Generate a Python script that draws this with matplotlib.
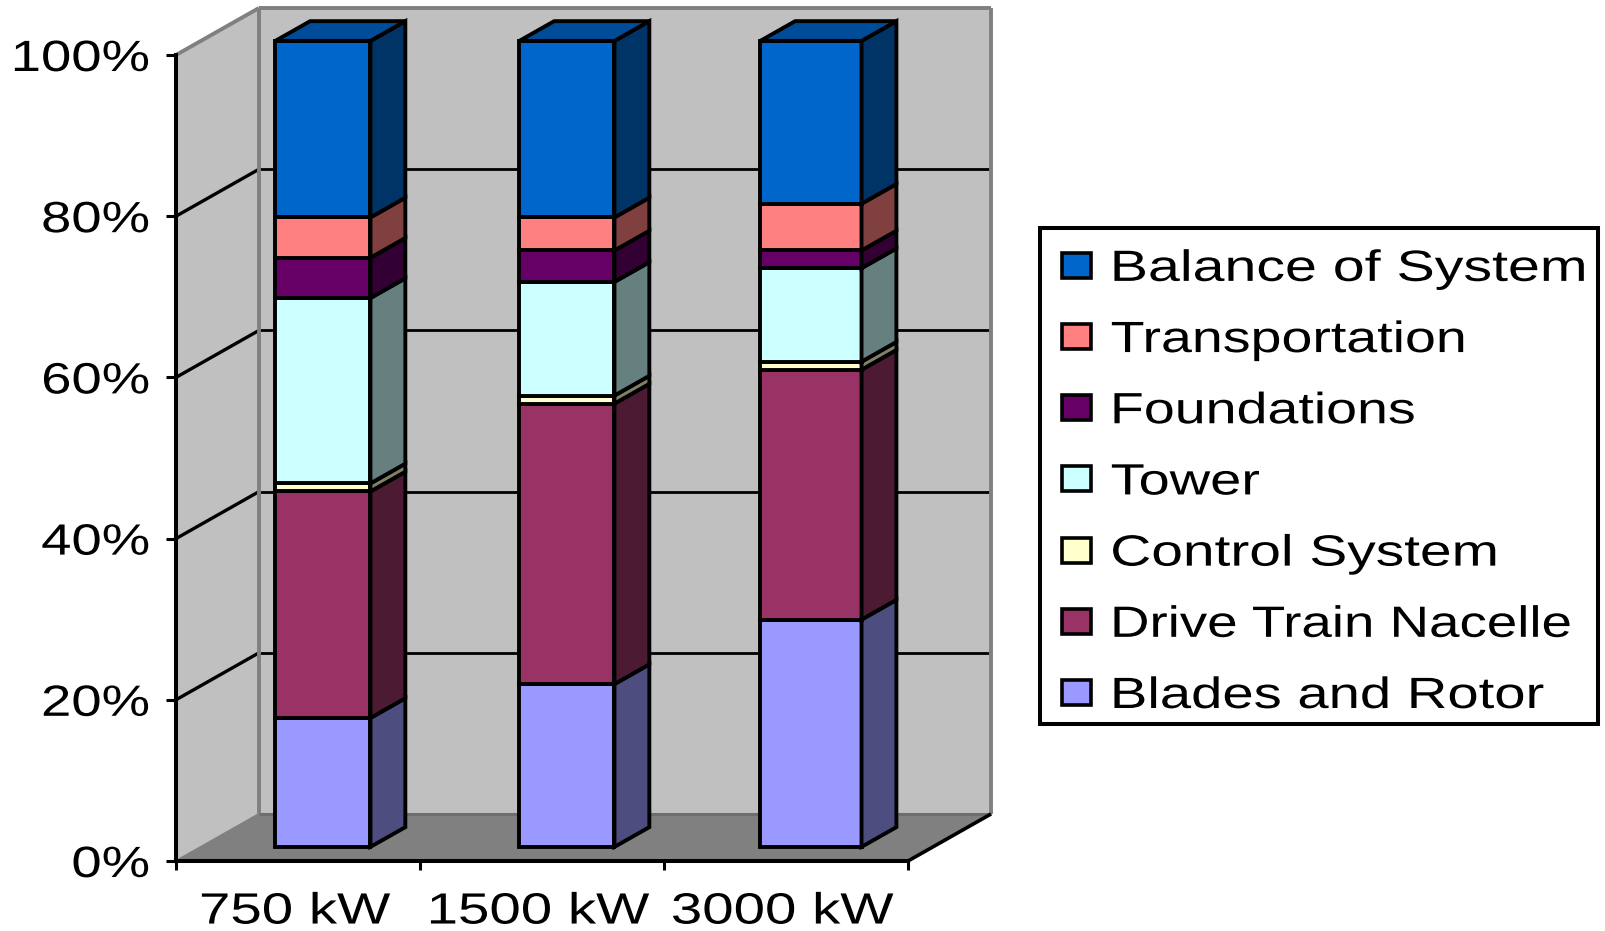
#!/usr/bin/python3 -B
"""Stacked cost shares per turbine size, drawn as an Excel style 3D column chart.
"""

import matplotlib

matplotlib.use("Agg")

import matplotlib.patheffects as pe
import matplotlib.pyplot as plt
from matplotlib.patches import Patch, Rectangle
from matplotlib.transforms import Affine2D

SIZES = ["750 kW", "1500 kW", "3000 kW"]
Y_TICKS = [0, 20, 40, 60, 80, 100]

BLADES = [16.0, 20.2, 28.2]
DRIVE = [28.1, 34.8, 31.0]
CONTROL = [1.0, 1.0, 1.0]
TOWER = [23.0, 14.1, 11.6]
FOUNDATIONS = [5.0, 3.9, 2.2]
TRANSPORT = [5.0, 4.1, 5.8]
BALANCE = [21.9, 21.9, 20.2]

SERIES = [
    ("Blades and Rotor", BLADES, "#9999FF", "#4D4D80", "#7373BF"),
    ("Drive Train Nacelle", DRIVE, "#993366", "#4D1A33", "#73264D"),
    ("Control System", CONTROL, "#FFFFCC", "#808066", "#BFBF99"),
    ("Tower", TOWER, "#CCFFFF", "#668080", "#99BFBF"),
    ("Foundations", FOUNDATIONS, "#660066", "#330033", "#4D004D"),
    ("Transportation", TRANSPORT, "#FF8080", "#804040", "#BF6060"),
    ("Balance of System", BALANCE, "#0066CC", "#003366", "#004C99"),
]

BAR_WIDTHS = [0.39, 0.39, 0.415]
# top to bottom, the word gaps in the source differ from label to label
LEGEND_STRETCH = [1.31, 1.27, 1.27, 1.28, 1.30, 1.25, 1.285]

W, H = 1606, 931
X0, X1, Y0, Y100 = 176, 908, 861, 55

# oblique depth: how far the back plane sits from the front plane, in data units
DEPTH_X = 83 / ((X1 - X0) / 3)
DEPTH_Y = 47 / ((Y0 - Y100) / 100)
BAR_Z0, BAR_Z1 = 0.30, 0.72

BLACK_LW = 2.8
GRAY = "#808080"
WALL = "#C0C0C0"
FONT = 31.5


class Stretch(pe.AbstractPathEffect):
    """Widen glyphs sideways, the source picture was resized unevenly."""

    def __init__(self, factor, pivot):
        super().__init__()
        self.factor = factor
        self.pivot = pivot

    def draw_path(self, renderer, gc, tpath, affine, rgbFace=None):
        box = tpath.get_extents()
        p = box.x0 + self.pivot * box.width
        stretch = Affine2D().translate(-p, 0).scale(self.factor, 1).translate(p, 0)
        renderer.draw_path(gc, tpath, stretch + affine, rgbFace)


def project(x, y, z):
    return x + z * DEPTH_X, y + z * DEPTH_Y


def face(ax, corners, z, **kw):
    xs, ys = zip(*[project(*c) for c in corners])
    ax.fill(xs, ys, clip_on=False, zorder=z, **kw)


def line(ax, a, b, color, lw, z):
    xa, ya = project(*a)
    xb, yb = project(*b)
    ax.plot([xa, xb], [ya, yb], color=color, lw=lw, clip_on=False, zorder=z,
            solid_capstyle="butt")


def draw_box(ax):
    n = len(SIZES)
    face(ax, [(0, 0, 0), (n, 0, 0), (n, 0, 1), (0, 0, 1)], 1, color=GRAY, lw=0)
    face(ax, [(0, 0, 0), (0, 0, 1), (0, 100, 1), (0, 100, 0)], 1, color=WALL, lw=0)
    face(ax, [(0, 0, 1), (n, 0, 1), (n, 100, 1), (0, 100, 1)], 1, color=WALL, lw=0)

    for v in Y_TICKS[1:-1]:
        line(ax, (0, v, 0), (0, v, 1), "black", 2.4, 1.5)
        line(ax, (0, v, 1), (n, v, 1), "black", 2.0, 1.5)

    # wall edges go over the gridlines
    line(ax, (0, 0, 1), (0, 100, 1), GRAY, 2.8, 1.6)
    line(ax, (0, 100, 0), (0, 100, 1), GRAY, 2.8, 1.6)
    line(ax, (0, 100, 1), (n, 100, 1), GRAY, 2.8, 1.6)
    line(ax, (n, 0, 1), (n, 100, 1), GRAY, 2.8, 1.6)
    line(ax, (0, 0, 1), (n, 0, 1), "#6E6E6E", 2.2, 1.6)
    line(ax, (0, 0, 0), (0, 0, 1), GRAY, 1.5, 1.6)
    line(ax, (n, 0, 0), (n, 0, 1), "black", 2.6, 1.6)


def draw_columns(ax):
    for i, width in enumerate(BAR_WIDTHS):
        left = i + 0.5 - width / 2
        right = left + width
        bottom = 0
        for _, values, front, side, top in SERIES:
            v = values[i]
            ax.bar(project(left, 0, BAR_Z0)[0], v, width=width, align="edge",
                   bottom=bottom + BAR_Z0 * DEPTH_Y, color=front, edgecolor="black",
                   lw=BLACK_LW, clip_on=False, zorder=3)
            face(ax, [(right, bottom, BAR_Z0), (right, bottom, BAR_Z1),
                      (right, bottom + v, BAR_Z1), (right, bottom + v, BAR_Z0)], 3,
                 facecolor=side, edgecolor="black", lw=BLACK_LW)
            bottom += v
        # only the top series shows its upper face
        face(ax, [(left, bottom, BAR_Z0), (left, bottom, BAR_Z1),
                  (right, bottom, BAR_Z1), (right, bottom, BAR_Z0)], 3,
             facecolor=SERIES[-1][4], edgecolor="black", lw=BLACK_LW)


def main():
    plt.rcParams["font.family"] = ["Liberation Sans", "DejaVu Sans"]
    fig = plt.figure(figsize=(W / 100, H / 100), dpi=100)
    ax = fig.add_axes([X0 / W, 1 - Y0 / H, (X1 - X0) / W, (Y0 - Y100) / H])
    ax.set_facecolor("none")

    draw_box(ax)
    draw_columns(ax)

    ax.set_xlim(0, len(SIZES))
    ax.set_ylim(0, 100)
    for s in ["top", "right"]:
        ax.spines[s].set_visible(False)
    for s in ["left", "bottom"]:
        ax.spines[s].set_linewidth(2.9)

    ax.set_yticks(Y_TICKS)
    ax.set_yticklabels([f"{v}%" for v in Y_TICKS], fontsize=FONT)
    ax.tick_params(axis="y", length=7.5, width=2.2, pad=11.5)
    for t in ax.get_yticklabels():
        t.set_path_effects([Stretch(1.245, 1.0)])

    ax.set_xticks(range(len(SIZES) + 1))
    ax.set_xticklabels([""] * (len(SIZES) + 1))
    ax.set_xticks([i + 0.5 for i in range(len(SIZES))], minor=True)
    ax.set_xticklabels(SIZES, minor=True, fontsize=FONT)
    ax.tick_params(axis="x", which="major", length=6.5, width=2.2)
    ax.tick_params(axis="x", which="minor", length=0, pad=22)
    for t in ax.get_xticklabels(minor=True):
        t.set_path_effects([Stretch(1.29, 0.57)])

    # the frame is wider than the unstretched labels, so it is its own rectangle
    fig.add_artist(Rectangle((1040 / W, 1 - 724 / H), 558 / W, 496 / H, facecolor="white",
                             edgecolor="black", lw=2.9, transform=fig.transFigure))
    handles = [Patch(facecolor=c[2], edgecolor="black", lw=2.6, label=c[0])
               for c in reversed(SERIES)]
    leg = fig.legend(handles=handles, loc="upper left", frameon=False,
                     bbox_to_anchor=(1040 / W, 1 - 227 / H),
                     bbox_transform=fig.transFigure, borderaxespad=0, fontsize=FONT,
                     handlelength=0.66, handleheight=0.5, handletextpad=0.46,
                     labelspacing=0.69, borderpad=0.5)
    for t, s in zip(leg.get_texts(), LEGEND_STRETCH):
        t.set_path_effects([Stretch(s, 0.0)])

    fig.savefig("out.png", dpi=100)


if __name__ == "__main__":
    main()
